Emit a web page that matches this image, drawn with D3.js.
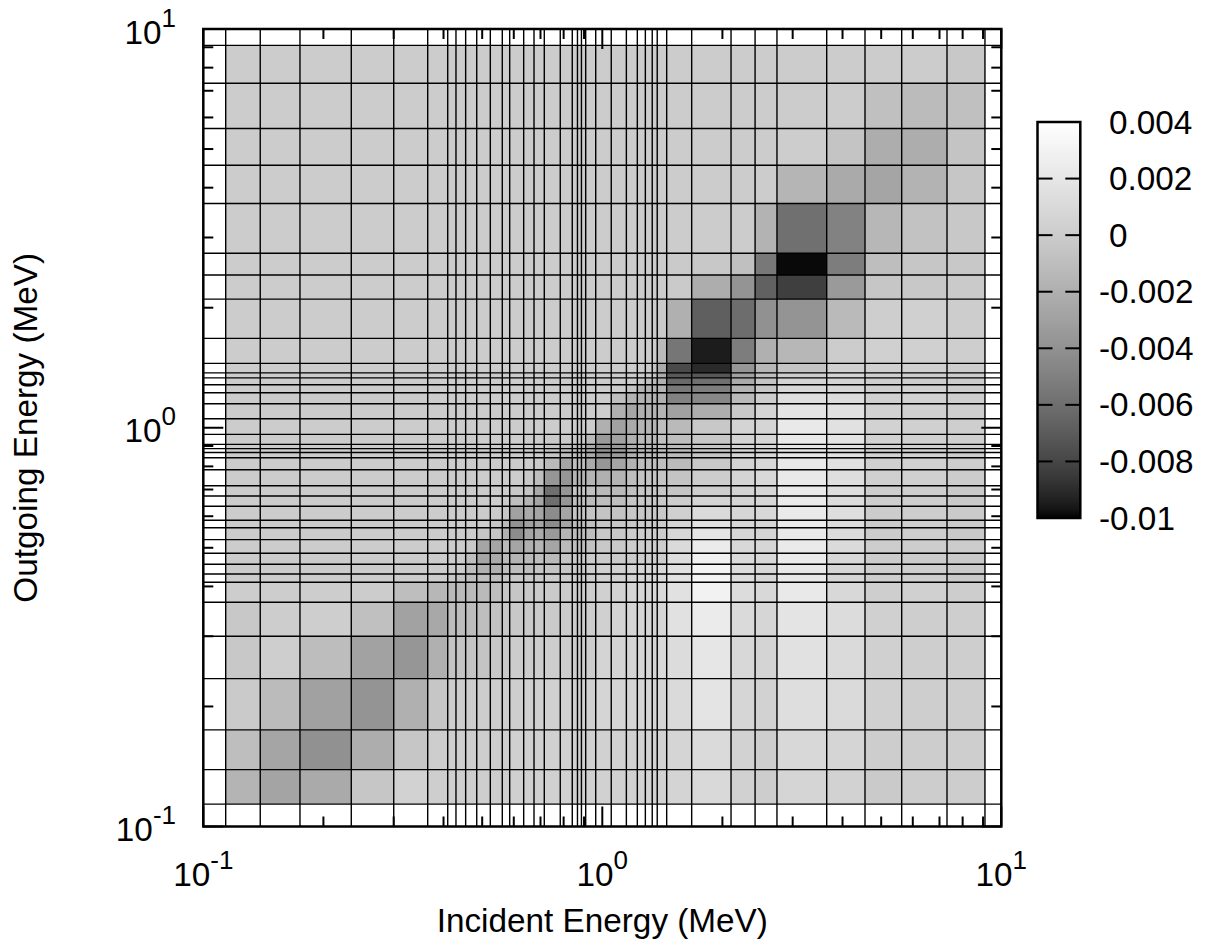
<!DOCTYPE html>
<html>
<head>
<meta charset="utf-8">
<script src="https://cdn.jsdelivr.net/npm/d3@7"></script>
<style>
html,body{margin:0;padding:0;background:#fff;}
text{font-family:"Liberation Sans",Arial,sans-serif;fill:#000;}
</style>
</head>
<body>
<div id="chart"></div>
<script>
// group boundaries in MeV, same grid on both axes
const energyEdges = [0.1138,0.1389,0.1747,0.2349,0.3001,0.3651,0.4098,0.4298,0.4545,0.4845,0.5240,0.5615,0.5860,
    0.6353,0.6743,0.7155,0.7846,0.8409,0.8665,0.8866,0.9086,0.9627,1.053,1.149,1.224,1.282,1.334,1.373,1.450,
    1.675,2.102,2.415,2.740,3.651,4.554,5.628,7.31,9.1];
const majorTicks = [0.1,1,10];
const minorTicks = [0.2,0.3,0.4,0.5,0.6,0.7,0.8,0.9,2,3,4,5,6,7,8,9];
const colorTicks = [0.004,0.002,0,-0.002,-0.004,-0.006,-0.008,-0.01];
const colorLabels = ["0.004","0.002","0","-0.002","-0.004","-0.006","-0.008","-0.01"];
const colorDomain = [-0.01,0.004];

// covariance in units of 0.001; first row is the lowest outgoing group,
// each row runs over the incident groups from low to high
const cellValues = [
 [-1.7,-2.8,-2.4,-0.4,0.45,0.2,0.2,0.2,0.2,0.2, 0.2,0.2,0.3,0.3,0.3,0.3,0.3,0.3,0.3,0.3, 0.3,0.4,0.4,0.4,0.45,0.45,0.45,0.45, 0.6,1.0,0.4,0.1,0.7,0.45,-0.1,0.1,0.1],
 [-1.0,-2.7,-4.0,-2.2,-0.4,0.1,0.2,0.2,0.2,0.2, 0.2,0.2,0.3,0.3,0.3,0.3,0.3,0.3,0.3,0.3, 0.3,0.4,0.4,0.4,0.45,0.45,0.45,0.45, 0.7,1.1,0.45,0.2,0.9,0.7,0.1,0.1,0.15],
 [-0.1,-1.2,-3.0,-3.8,-2.0,-0.45,0.1,0.1,0.1,0.1, 0.1,0.2,0.2,0.3,0.3,0.3,0.3,0.3,0.3,0.3, 0.3,0.7,0.7,0.7,0.7,0.7,0.7,0.7, 1.05,1.85,0.75,0.45,1.35,1.05,0.3,0.15,0.15],
 [-0.3,0.2,-1.1,-2.9,-3.7,-2.0,-0.6,-0.6,-0.6,-0.6, -0.3,-0.2,0,0,0.1,0.1,0.1,0.1,0.1,0.1, 0.1,0.6,0.7,0.7,0.8,0.8,0.8,0.9, 1.2,2.0,0.9,0.6,1.6,1.05,0.3,0.2,0.15],
 [-0.3,0.1,0.2,-0.85,-2.9,-2.5,-1.1,-1.1,-1.1,-1.0, -0.7,-0.4,-0.3,-0.2,-0.1,-0.1,0,0,0,0, 0.1,0.3,0.6,0.7,0.7,0.7,0.7,0.8, 1.6,2.4,1.05,0.75,1.85,1.2,0.3,0.2,0.15],
 [0.1,0.1,0.1,0,-1.0,-1.5,-1.3,-1.3,-1.3,-1.3, -1.0,-0.5,-0.4,-0.3,-0.1,-0.1,0,0,0,0, 0.1,0.3,0.5,0.7,0.8,0.8,0.9,1.0, 1.6,2.95,1.2,0.9,2.2,0.95,0.2,0.3,0.1],
 [0,0,0,0,0,0,-0.3,-0.6,-1.0,-1.0, -1.0,-0.6,-0.3,-0.3,-0.3,0,0,0,0,0, 0.1,0.3,0.4,0.6,0.7,0.7,0.8,0.9, 1.6,3.1,1.2,0.85,2.2,0.75,0.1,0.2,-0.1],
 [0,0,0,0,0,0,0,0,-1.0,-2.0, -2.0,-1.0,-1.0,-1.0,-0.6,-0.6,-0.4,-0.1,-0.1,-0.1, 0.1,0.3,0.4,0.6,0.7,0.7,0.8,0.9, 1.6,3.1,1.2,0.9,2.2,0.75,0.2,0.2,-0.1],
 [0,0,0,0,0,0,0,0,-1.0,-2.7, -2.4,-1.3,-1.7,-1.3,-1.0,-1.3,-0.6,-0.3,-0.3,-0.3, -0.1,-0.1,-0.1,-0.1,0.1,0.1,0.1,0.1, 1.35,2.8,1.05,0.9,2.4,0.9,0,0,-0.2],
 [0,0,0,0,0,0,0,0,-0.3,-2.7, -2.7,-1.3,-2.7,-2.0,-1.7,-2.7,-1.3,-1.0,-1.0,-1.0, -0.7,-0.3,-0.3,0,0.1,0.1,0.1,0.1, 1.05,2.4,0.9,0.75,2.3,1.05,0.1,0.1,0],
 [0,0,0,0,0,0,0,0,0,-0.5, -0.6,-2.0,-4.3,-2.7,-2.4,-3.4,-1.7,-1.2,-1.2,-1.2, -1.0,-0.3,-0.3,0,0.1,0.1,0.1,0.1, 0.85,1.85,0.75,0.7,2.2,1.2,0,0.1,-0.1],
 [0,0,0,0,0,0,0,0,0,0, -0.5,-1.3,-4.0,-3.0,-2.7,-4.3,-2.7,-1.2,-1.2,-1.2, -1.0,-0.4,-0.4,-0.3,-0.1,-0.1,-0.1,-0.1, 0.6,1.6,0.75,0.75,2.3,1.2,0,0.1,-0.1],
 [0,0,0,0,0,0,0,0,0,0, -0.1,-0.4,-3.0,-2.4,-2.7,-4.3,-2.7,-0.6,-0.6,-0.6, -0.6,-0.6,-0.6,-0.3,-0.3,-0.3,-0.3,-0.3, 0.3,1.05,0.75,0.9,2.3,1.35,0,0.1,-0.1],
 [0,0,0,0,0,0,0,0,0,0, 0,-0.1,-1.0,-1.7,-2.7,-6.0,-3.7,-1.0,-1.0,-1.0, -1.2,-1.0,-1.0,-0.4,-0.3,-0.3,-0.3,-0.3, 0.1,0.6,0.6,0.8,2.4,1.2,0.2,0.15,-0.1],
 [0,0,0,0,0,0,0,0,0,0, 0,0,-0.3,-0.6,-2.4,-6.0,-3.7,-0.6,-0.6,-0.6, -0.8,-1.3,-1.3,-0.85,-0.4,-0.4,-0.4,-0.4, -0.45,0.2,0.6,0.75,2.3,1.35,0.2,0.15,-0.1],
 [0,0,0,0,0,0,0,0,0,0, 0,0,0,-0.3,-1.0,-3.7,-3.7,-1.7,-1.7,-1.7, -1.7,-2.0,-1.7,-1.0,-0.6,-0.6,-0.6,-0.6, -0.6,0.1,0.6,0.9,2.2,1.35,0.3,0.3,0],
 [0,0,0,0,0,0,0,0,0,0, 0,0,0,0,-0.1,-1.3,-2.7,-1.0,-1.0,-1.0, -2.4,-3.7,-2.7,-1.8,-1.0,-1.0,-1.0,-1.0, -1.2,-0.3,0.6,0.9,2.2,1.5,0.3,0.4,0.1],
 [0,0,0,0,0,0,0,0,0,0, 0,0,0,0,0,-0.5,-1.0,-1.0,-1.0,-1.0, -2.4,-4.0,-3.4,-2.0,-1.3,-1.3,-1.3,-1.0, -1.2,-0.4,0.6,0.75,2.0,1.7,0.45,0.4,0.1],
 [0,0,0,0,0,0,0,0,0,0, 0,0,0,0,0,-0.5,-1.0,-1.0,-1.0,-1.0, -2.4,-4.0,-3.4,-2.0,-1.3,-1.3,-1.3,-1.0, -1.2,-0.4,0.6,0.75,2.0,1.7,0.45,0.4,0.1],
 [0,0,0,0,0,0,0,0,0,0, 0,0,0,0,0,-0.5,-1.0,-1.0,-1.0,-1.0, -2.4,-4.0,-3.4,-2.0,-1.3,-1.3,-1.3,-1.0, -1.2,-0.4,0.6,0.75,2.0,1.7,0.45,0.4,0.1],
 [0,0,0,0,0,0,0,0,0,0, 0,0,0,0,0,-0.2,-0.2,-0.3,-0.3,-0.3, -1.3,-3.4,-3.0,-2.0,-1.3,-1.3,-1.3,-0.85, -1.0,-0.3,0.6,0.75,2.2,1.85,0.45,0.4,0.3],
 [0,0,0,0,0,0,0,0,0,0, 0,0,0,0,0,0,0,0,0,0, 0,-2.0,-3.0,-2.4,-1.7,-1.7,-1.7,-1.0, -1.3,-0.3,0.6,0.7,2.2,1.6,0.45,0.3,0.2],
 [0,0,0,0,0,0,0,0,0,0, 0,0,0,0,0,0,0,0,0,0, 0,0.1,-2.0,-2.7,-2.0,-1.8,-1.8,-1.7, -3.0,-2.2,-0.3,0.6,1.85,1.6,0.45,0.3,0.2],
 [0,0,0,0,0,0,0,0,0,0, 0,0,0,0,0,0,0,0,0,0, 0,0,-1.0,-1.8,-1.8,-1.8,-1.8,-2.0, -4.9,-4.6,-1.3,0.1,1.35,1.2,0.3,0.35,0.15],
 [0,0,0,0,0,0,0,0,0,0, 0,0,0,0,0,0,0,0,0,0, 0,0,0,-0.6,-1.7,-1.7,-1.7,-1.8, -5.5,-5.2,-1.8,-0.4,0.85,0.75,0.2,0.3,0.1],
 [0,0,0,0,0,0,0,0,0,0, 0,0,0,0,0,0,0,0,0,0, 0,0,0,0,-0.3,-0.8,-1.2,-2.0, -6.3,-6.0,-2.4,-0.6,0.6,0.6,0.2,0.2,0.1],
 [0,0,0,0,0,0,0,0,0,0, 0,0,0,0,0,0,0,0,0,0, 0,0,0,0,0,0,-0.5,-2.2, -7.1,-7.2,-3.0,-1.0,0.1,0.6,0.3,0.2,0.1],
 [0,0,0,0,0,0,0,0,0,0, 0,0,0,0,0,0,0,0,0,0, 0,0,0,0,0,0,-0.6,-2.4, -7.8,-9.06,-3.7,-1.5,-0.6,0.3,0.3,0.3,0.1],
 [0,0,0,0,0,0,0,0,0,0, 0,0,0,0,0,0,0,0,0,0, 0,0,0,0,0,0,0,-1.3, -5.6,-9.5,-5.2,-2.0,-1.5,0,0.3,0.3,0.2],
 [0,0,0,0,0,0,0,0,0,0, 0,0,0,0,0,0,0,0,0,0, 0,0,0,0,0,0,0,-0.1, -2.0,-6.8,-6.1,-4.0,-3.8,-1.3,0.2,0.3,0.1],
 [0,0,0,0,0,0,0,0,0,0, 0,0,0,0,0,0,0,0,0,0, 0,0,0,0,0,0,0,0, -0.1,-2.2,-3.8,-6.7,-8.3,-3.4,-0.45,-0.3,-0.1],
 [0,0,0,0,0,0,0,0,0,0, 0,0,0,0,0,0,0,0,0,0, 0,0,0,0,0,0,0,0, -0.1,-0.3,-0.85,-5.5,-9.9,-5.2,-1.0,-0.45,-0.3],
 [0,0,0,0,0,0,0,0,0,0, 0,0,0,0,0,0,0,0,0,0, 0,0,0,0,0,0,0,0, 0,0,0,-1.8,-5.9,-4.9,-1.5,-0.7,-0.3],
 [0,0,0,0,0,0,0,0,0,0, 0,0,0,0,0,0,0,0,0,0, 0,0,0,0,0,0,0,0, 0,0,0,0,-1.6,-2.4,-2.7,-1.8,-0.4],
 [0,0,0,0,0,0,0,0,0,0, 0,0,0,0,0,0,0,0,0,0, 0,0,0,0,0,0,0,0, 0,0,0,0,0.1,-0.6,-2.2,-2.2,-0.6],
 [0,0,0,0,0,0,0,0,0,0, 0,0,0,0,0,0,0,0,0,0, 0,0,0,0,0,0,0,0, 0,0,0,0,0,0,-0.85,-1.2,-0.85],
 [0,0,0,0,0,0,0,0,0,0, 0,0,0,0,0,0,0,0,0,0, 0,0,0,0,0,0,0,0, 0,0,0,0,0,0,0,0,-0.3]
];

const width = 1207, height = 945;
const plot = {left:203.3,right:1001.3,top:29,bottom:826.5};
const bar = {left:1037.5,right:1080.3,top:122,bottom:518};
const fontSize = 33.3;

let svg = d3.select("#chart").append("svg").attr("width",width).attr("height",height).style("display","block");

let x = d3.scaleLog().domain([0.1,10]).range([plot.left,plot.right]);
let y = d3.scaleLog().domain([0.1,10]).range([plot.bottom,plot.top]);
let ybar = d3.scaleLinear().domain(colorDomain).range([bar.bottom,bar.top]);

// gnuplot grey palette, gamma 1.5
let norm = d3.scaleLinear().domain(colorDomain).range([0,1]).clamp(true);
let level = d3.scalePow().exponent(1/1.5).domain([0,1]).range([0,255]);
let color = v=>{ let g = Math.round(level(norm(v))); return d3.rgb(g,g,g).formatHex(); };

// cells
let cells = [];
cellValues.forEach((row,r)=>row.forEach((v,c)=>cells.push({r:r,c:c,v:v*0.001})));
svg.append("g").classed("cells",true).selectAll("rect")
    .data(cells)
    .join("rect")
    .attr("x",d=>x(energyEdges[d.c]))
    .attr("y",d=>y(energyEdges[d.r+1]))
    .attr("width",d=>x(energyEdges[d.c+1])-x(energyEdges[d.c]))
    .attr("height",d=>y(energyEdges[d.r])-y(energyEdges[d.r+1]))
    .attr("fill",d=>color(d.v))
    .attr("shape-rendering","crispEdges");

// group boundaries run across the whole frame
let grid = svg.append("g").classed("grid",true).attr("stroke","#000").attr("stroke-width",1.4);
grid.selectAll(".vline").data(energyEdges).join("line").classed("vline",true)
    .attr("x1",d=>x(d)).attr("x2",d=>x(d)).attr("y1",plot.top).attr("y2",plot.bottom);
grid.selectAll(".hline").data(energyEdges).join("line").classed("hline",true)
    .attr("y1",d=>y(d)).attr("y2",d=>y(d)).attr("x1",plot.left).attr("x2",plot.right);

// tick marks on the four sides, pointing inward
function drawTicks(axisFn,scale,values,size,tx,ty){
    let g = svg.append("g").attr("transform",`translate(${tx},${ty})`)
        .call(axisFn(scale).tickValues(values).tickSize(-size).tickSizeOuter(0).tickFormat(""));
    g.select(".domain").remove();
    g.selectAll("line").attr("stroke","#000").attr("stroke-width",2);
    g.selectAll("text").remove();
    g.selectAll(".tick").attr("transform",function(d){
        return axisFn===d3.axisBottom||axisFn===d3.axisTop?`translate(${scale(d)},0)`:`translate(0,${scale(d)})`;
    });
}
[[minorTicks,10],[majorTicks,20]].forEach(t=>{
    drawTicks(d3.axisBottom,x,t[0],t[1],0,plot.bottom);
    drawTicks(d3.axisTop,x,t[0],t[1],0,plot.top);
    drawTicks(d3.axisLeft,y,t[0],t[1],plot.left,0);
    drawTicks(d3.axisRight,y,t[0],t[1],plot.right,0);
});

svg.append("rect").attr("x",plot.left).attr("y",plot.top)
    .attr("width",plot.right-plot.left).attr("height",plot.bottom-plot.top)
    .attr("fill","none").attr("stroke","#000").attr("stroke-width",2.5);

// power of ten labels
function powerLabel(sel,xpos,ypos,anchor,d){
    let t = sel.append("text").attr("x",xpos).attr("y",ypos).attr("text-anchor",anchor).style("font-size",fontSize+"px");
    t.append("tspan").text("10");
    t.append("tspan").text(Math.round(Math.log10(d))).attr("dy",-17).style("font-size","26px");
}
let labels = svg.append("g").classed("labels",true);
majorTicks.forEach(d=>{
    powerLabel(labels,x(d),885.5,"middle",d);
    powerLabel(labels,176,y(d)+14.5,"end",d);
});

labels.append("text").attr("x",(plot.left+plot.right)/2).attr("y",932).attr("text-anchor","middle")
    .style("font-size",fontSize+"px").text("Incident Energy (MeV)");
labels.append("text").attr("transform",`translate(36.7,${(plot.top+plot.bottom)/2}) rotate(-90)`).attr("text-anchor","middle")
    .style("font-size",fontSize+"px").text("Outgoing Energy (MeV)");

// colour bar
let grad = svg.append("defs").append("linearGradient").attr("id","bar-grad")
    .attr("x1",0).attr("x2",0).attr("y1",1).attr("y2",0);
grad.selectAll("stop").data(d3.range(0,1.0001,0.02)).join("stop")
    .attr("offset",d=>d).attr("stop-color",d=>color(colorDomain[0]+d*(colorDomain[1]-colorDomain[0])));
svg.append("rect").attr("x",bar.left).attr("y",bar.top)
    .attr("width",bar.right-bar.left).attr("height",bar.bottom-bar.top)
    .attr("fill","url(#bar-grad)");
let barTicks = svg.append("g").classed("bar-ticks",true).attr("stroke","#000").attr("stroke-width",2);
barTicks.selectAll(".tl").data(colorTicks.slice(1,-1)).join("line").classed("tl",true)
    .attr("x1",bar.left).attr("x2",bar.left+15).attr("y1",d=>ybar(d)).attr("y2",d=>ybar(d));
barTicks.selectAll(".tr").data(colorTicks.slice(1,-1)).join("line").classed("tr",true)
    .attr("x1",bar.right-15).attr("x2",bar.right).attr("y1",d=>ybar(d)).attr("y2",d=>ybar(d));
svg.append("rect").attr("x",bar.left).attr("y",bar.top)
    .attr("width",bar.right-bar.left).attr("height",bar.bottom-bar.top)
    .attr("fill","none").attr("stroke","#000").attr("stroke-width",2.5);
svg.append("g").classed("bar-labels",true).selectAll("text").data(colorTicks).join("text")
    .attr("x",d=>d<0?1099:1109)
    .attr("y",d=>ybar(d)+11.5)
    .style("font-size",fontSize+"px")
    .text((d,i)=>colorLabels[i]);
</script>
</body>
</html>
